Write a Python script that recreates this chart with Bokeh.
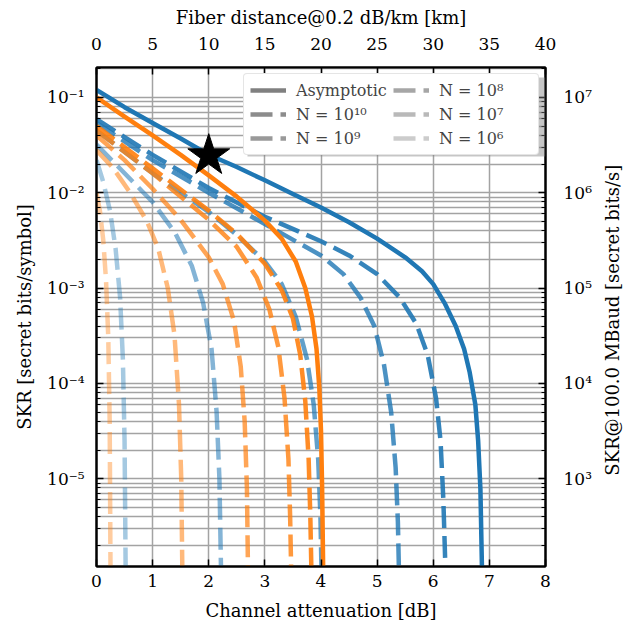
import math
from bokeh.plotting import figure
from bokeh.layouts import row
from bokeh.core.properties import value
from bokeh.models import (Range1d, LinearAxis, LogAxis, LogScale, FixedTicker,
                          CustomJSTickFormatter, Legend, LegendItem, BoxAnnotation)
from bokeh.embed import file_html
from bokeh.resources import INLINE

# ---------------- data ----------------
att_ticks = [0, 1, 2, 3, 4, 5, 6, 7, 8]
km_ticks = [0, 5, 10, 15, 20, 25, 30, 35, 40]
skr_decades = [1e-6, 1e-5, 1e-4, 1e-3, 1e-2, 1e-1]
rate_decades = [1e2, 1e3, 1e4, 1e5, 1e6, 1e7]
legend_labels = ["Asymptotic", "N = 10¹⁰", "N = 10⁹", "N = 10⁸", "N = 10⁷", "N = 10⁶"]
right_title = "SKR@100.0 MBaud [secret bits/s]"

star_x = [2.0]
star_y = [0.0245]

blue_asym_x = [0, 0.5, 1, 1.5, 2, 2.5, 3, 3.5, 4, 4.5, 5, 5.5, 5.8, 6.0, 6.2, 6.4, 6.55, 6.65, 6.75, 6.8, 6.84, 6.87]
blue_asym_y = [0.12, 0.079, 0.054, 0.037, 0.025, 0.0186, 0.0135, 0.0097, 0.0070, 0.0049, 0.0033,
               0.0021, 0.0015, 1.1e-3, 7.0e-4, 4.0e-4, 2.3e-4, 1.3e-4, 6.0e-5, 2.5e-5, 7.9e-6, 1.0e-6]
blue_n10_x = [0, 1, 2, 3, 4, 4.5, 5, 5.4, 5.7, 5.9, 6.05, 6.13, 6.18, 6.22]
blue_n10_y = [0.059, 0.025, 0.0112, 0.0056, 0.0031, 0.0022, 0.0014, 8.0e-4, 4.2e-4, 2.0e-4, 7.0e-5, 2.5e-5, 6.0e-6, 1.0e-6]
blue_n9_x = [0, 1, 2, 3, 4, 4.4, 4.7, 4.95, 5.12, 5.25, 5.33, 5.37, 5.39]
blue_n9_y = [0.054, 0.022, 0.01, 0.0047, 0.0022, 0.0014, 8.0e-4, 4.0e-4, 1.6e-4, 5.0e-5, 1.3e-5, 3.5e-6, 1e-6]
blue_n8_x = [0, 1, 2, 2.5, 3, 3.3, 3.55, 3.75, 3.87, 3.95, 3.99, 4.01]
blue_n8_y = [0.045, 0.016, 0.0063, 0.0036, 0.0019, 1.1e-3, 5.0e-4, 1.8e-4, 6.0e-5, 1.6e-5, 4.0e-6, 1e-6]
blue_n7_x = [0, 0.5, 1, 1.4, 1.7, 1.9, 2.05, 2.14, 2.19, 2.22]
blue_n7_y = [0.032, 0.016, 0.008, 0.0038, 0.0017, 7.0e-4, 2.3e-4, 5.0e-5, 1.0e-5, 1e-6]
blue_n6_x = [0, 0.12, 0.24, 0.34, 0.42, 0.47, 0.5, 0.52]
blue_n6_y = [0.022, 0.013, 0.0065, 0.0026, 8.0e-4, 1.8e-4, 2.5e-5, 1e-6]

orange_asym_x = [0, 0.5, 1, 1.5, 2, 2.5, 3, 3.3, 3.55, 3.72, 3.84, 3.92, 3.97, 4.0, 4.02, 4.04]
orange_asym_y = [0.1, 0.063, 0.04, 0.025, 0.0152, 0.0091, 0.0051, 0.0033, 0.0019, 0.0010, 5.0e-4,
                 2.3e-4, 9.0e-5, 3.2e-5, 8.0e-6, 1.0e-6]
orange_n10_x = [0, 1, 2, 2.5, 3, 3.3, 3.5, 3.63, 3.72, 3.78, 3.81, 3.83]
orange_n10_y = [0.05, 0.018, 0.0065, 0.0037, 0.0018, 9.5e-4, 4.8e-4, 2.0e-4, 6.5e-5, 1.6e-5, 4.0e-6, 1e-6]
orange_n9_x = [0, 1, 2, 2.5, 2.85, 3.08, 3.24, 3.35, 3.42, 3.45, 3.47]
orange_n9_y = [0.045, 0.016, 0.0052, 0.0027, 0.0013, 6.0e-4, 2.4e-4, 7.0e-5, 1.6e-5, 4.0e-6, 1e-6]
orange_n8_x = [0, 0.5, 1, 1.5, 2, 2.25, 2.45, 2.57, 2.64, 2.68, 2.7]
orange_n8_y = [0.04, 0.022, 0.011, 0.0052, 0.0021, 1.1e-3, 4.5e-4, 1.5e-4, 4.0e-5, 8.0e-6, 1e-6]
orange_n7_x = [0, 0.3, 0.6, 0.9, 1.1, 1.27, 1.39, 1.47, 1.51, 1.53]
orange_n7_y = [0.028, 0.018, 0.01, 0.005, 0.0026, 1.0e-3, 3.2e-4, 6.0e-5, 1.0e-5, 1e-6]
orange_n6_x = [0, 0.06, 0.12, 0.17, 0.21, 0.235, 0.25]
orange_n6_y = [0.01, 0.0065, 0.0032, 0.0012, 3.0e-4, 4.0e-5, 1e-6]

# ---------------- styling ----------------
FONT = "DejaVu Serif"
BLUE = "#1f77b4"
ORANGE = "#ff7f0e"
ALPHAS = [1.0, 0.9, 0.8, 0.7, 0.55, 0.4]
DASH = "22 8"
LW = 4.5
YMIN, YMAX = 1.2e-6, 0.206
BAUD = 1e8

BL, BR, BT, BB = 96, 56, 67, 50
FW, FH = 449, 499

p = figure(frame_width=FW, frame_height=FH,
           min_border_left=BL, min_border_right=BR, min_border_top=BT, min_border_bottom=BB,
           x_range=Range1d(0, 8), y_range=Range1d(YMIN, YMAX), y_axis_type="log",
           output_backend="svg", toolbar_location=None)
p.extra_x_ranges = {"km": Range1d(0, 40)}
p.extra_y_ranges = {"rate": Range1d(YMIN * BAUD, YMAX * BAUD)}
p.extra_y_scales = {"rate": LogScale()}

bottom = p.below[0]
left = p.left[0]


def minor_list(decs):
    out = []
    for d in decs:
        for k in range(2, 10):
            out.append(d * k)
    return out


sup_fmt = CustomJSTickFormatter(code="""
const m = {'-':'\u207b','0':'\u2070','1':'\u00b9','2':'\u00b2','3':'\u00b3','4':'\u2074',
           '5':'\u2075','6':'\u2076','7':'\u2077','8':'\u2078','9':'\u2079'};
const e = Math.round(Math.log10(tick));
return '10' + String(e).split('').map(c => m[c]).join('');
""")

top = LinearAxis(x_range_name="km", ticker=FixedTicker(ticks=km_ticks),
                 axis_label="Fiber distance@0.2 dB/km [km]")
right = LogAxis(y_range_name="rate",
                ticker=FixedTicker(ticks=rate_decades, minor_ticks=minor_list([1e1] + rate_decades)),
                formatter=sup_fmt)
p.add_layout(top, "above")
p.add_layout(right, "right")

bottom.ticker = FixedTicker(ticks=att_ticks)
bottom.axis_label = "Channel attenuation [dB]"
left.ticker = FixedTicker(ticks=skr_decades, minor_ticks=minor_list([1e-7] + skr_decades))
left.formatter = sup_fmt
left.axis_label = "SKR [secret bits/symbol]"

for ax in (bottom, left, top, right):
    ax.major_tick_in = 7
    ax.major_tick_out = 0
    ax.minor_tick_in = 4
    ax.minor_tick_out = 0
    ax.axis_line_width = 2
    ax.axis_line_color = "black"
    ax.major_tick_line_width = 1.5
    ax.minor_tick_line_width = 1.2
    ax.major_label_text_font = FONT
    ax.major_label_text_font_size = "17px"
    ax.major_label_text_color = "black"
    ax.axis_label_text_font = FONT
    ax.axis_label_text_font_size = "18px"
    ax.axis_label_text_font_style = "normal"
    ax.axis_label_text_color = "black"

bottom.major_label_standoff = 8
bottom.axis_label_standoff = 10
top.major_label_standoff = 18
top.axis_label_standoff = 7
left.major_label_standoff = 12
left.axis_label_standoff = 9
right.major_label_standoff = 18

p.outline_line_color = "black"
p.outline_line_width = 2

GRID = "#a3a3a3"
p.xgrid.ticker = FixedTicker(ticks=att_ticks)
p.xgrid.grid_line_color = GRID
p.xgrid.grid_line_width = 1.5
p.ygrid.grid_line_color = GRID
p.ygrid.grid_line_width = 1.5
p.ygrid.minor_grid_line_color = GRID
p.ygrid.minor_grid_line_width = 1.5

# curves
blue = [(blue_asym_x, blue_asym_y), (blue_n10_x, blue_n10_y), (blue_n9_x, blue_n9_y),
        (blue_n8_x, blue_n8_y), (blue_n7_x, blue_n7_y), (blue_n6_x, blue_n6_y)]
orange = [(orange_asym_x, orange_asym_y), (orange_n10_x, orange_n10_y), (orange_n9_x, orange_n9_y),
          (orange_n8_x, orange_n8_y), (orange_n7_x, orange_n7_y), (orange_n6_x, orange_n6_y)]

for color, series in ((BLUE, blue), (ORANGE, orange)):
    for i in range(len(series) - 1, -1, -1):
        xs, ys = series[i]
        kw = dict(line_color=color, line_width=LW, line_alpha=ALPHAS[i], line_join="round")
        if i > 0:
            kw["line_dash"] = DASH
        p.line(xs, ys, **kw)

p.scatter(star_x, star_y, marker="star", size=44, color="black")

# soft drop shadow behind the legend box (offset down-right, like the reference)
shadow = BoxAnnotation(left=2.69, right=8.0, top=0.162, bottom=0.024,
                       fill_color="#808080", fill_alpha=0.45, line_color=None)
p.add_layout(shadow)

# legend (grey proxies, drawn outside the visible range)
items = []
for i, lab in enumerate(legend_labels):
    kw = dict(line_color="gray", line_width=LW, line_alpha=ALPHAS[i])
    if i > 0:
        kw["line_dash"] = DASH
    r = p.line([-5, -4], [1e-3, 1e-3], **kw)
    items.append(LegendItem(label=lab, renderers=[r]))

legend = Legend(items=items, location="top_right", ncols=2)
legend.label_text_font = FONT
legend.label_text_font_size = "16px"
legend.glyph_width = 36
legend.glyph_height = 20
legend.label_width = 93
legend.label_standoff = 10
legend.spacing = 4
legend.padding = 6
legend.margin = 6
legend.border_line_color = "#cccccc"
legend.border_line_width = 1.5
legend.background_fill_color = "white"
legend.background_fill_alpha = 1.0
if "border_radius" in legend.properties():
    legend.border_radius = 4
p.add_layout(legend)

# narrow strip on the right carrying the right-hand axis title (reads bottom-to-top)
TOTAL_H = BT + FH + BB
STRIP_W = 22
q = figure(width=STRIP_W, height=TOTAL_H, min_border=0,
           x_range=Range1d(0, STRIP_W), y_range=Range1d(0, TOTAL_H),
           x_axis_type=None, y_axis_type=None,
           output_backend="svg", toolbar_location=None)
q.outline_line_color = None
q.text(x=[STRIP_W / 2], y=[TOTAL_H - (BT + FH / 2)], text=[right_title], angle=math.pi / 2,
       text_align="center", text_baseline="middle",
       text_font=value(FONT), text_font_size=value("18px"), text_color="black")

layout = row(p, q)
open("out.html", "w").write(file_html(layout, INLINE))
